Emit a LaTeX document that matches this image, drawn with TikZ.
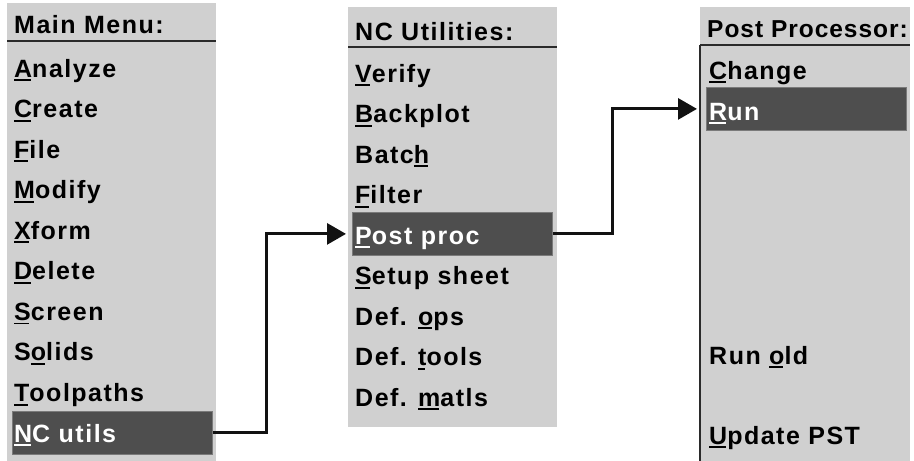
\documentclass[tikz,border=0pt]{standalone}
\usepackage{fontspec}
\setmainfont{Liberation Sans}[LetterSpace=6]
\newfontfamily\headfont{Liberation Sans}[LetterSpace=4]
\usetikzlibrary{arrows.meta}
\definecolor{panelgray}{HTML}{D0D0D0}
\definecolor{selgray}{HTML}{4E4E4E}
\definecolor{seledge}{HTML}{7A7A7A}
\definecolor{rulegray}{HTML}{2A2A2A}
% underlined access key
\newcommand{\hk}[1]{\setbox0\hbox{#1}\rlap{\rule[-4pt]{\dimexpr\wd0-1.5pt\relax}{1.8pt}}\box0}
\tikzset{
  panel/.style={fill=panelgray, draw=none, anchor=north west, inner sep=0pt},
  item/.style={anchor=base west, inner sep=0pt, font=\fontsize{25}{29}\selectfont\bfseries, text=black},
  selitem/.style={item, text=white},
  selbox/.style={fill=selgray, draw=seledge, line width=0.8pt, anchor=north west, inner sep=0pt,
    minimum width=200pt, minimum height=43pt},
  headrule/.style={draw=rulegray, line width=2pt},
  link/.style={draw=black!93, line width=3pt, -{Triangle[length=19pt,width=21pt]}},
}
\begin{document}
\begin{tikzpicture}[x=1pt, y=-1pt]
\useasboundingbox (0,0) rectangle (914,461);

% menu panels
\node[panel, minimum width=209pt, minimum height=458pt] (mainpanel) at (7,3) {};
\node[panel, minimum width=209pt, minimum height=420pt] (ncpanel) at (348,7) {};
\node[panel, minimum width=210pt, minimum height=454pt] (pppanel) at (700,7) {};

% header rules
\draw[headrule] (7,41) -- (216,41);
\draw[headrule] (348,47) -- (557,47);
\draw[headrule] (700,45) -- (910,45);
\draw[headrule] (700,45) -- (700,461);

% selected entries
\node[selbox] (ncutils) at (12,411) {};
\node[selbox] (postproc) at (352,212) {};
\node[selbox] (run) at (706,87) {};

% main menu
\node[item] (mmhead) at (14,33) {Main Menu:};
\node[item] (m1) at (14,77) {\hk{A}nalyze};
\node[item] (m2) at (14,117.6) {\hk{C}reate};
\node[item] (m3) at (14,158.1) {\hk{F}ile};
\node[item] (m4) at (14,198.7) {\hk{M}odify};
\node[item] (m5) at (14,239.2) {\hk{X}form};
\node[item] (m6) at (14,279.8) {\hk{D}elete};
\node[item] (m7) at (14,320.4) {\hk{S}creen};
\node[item] (m8) at (14,360.9) {S\hk{o}lids};
\node[item] (m9) at (14,401.5) {\hk{T}oolpaths};
\node[selitem] (m10) at (14,442) {\hk{N}C utils};

% NC utilities menu
\node[item] (nchead) at (355,40) {NC Utilities:};
\node[item] (n1) at (355,82) {\hk{V}erify};
\node[item] (n2) at (355,122.5) {\hk{B}ackplot};
\node[item] (n3) at (355,163) {Batc\hk{h}};
\node[item] (n4) at (355,203.5) {\hk{F}ilter};
\node[selitem] (n5) at (355,244) {\hk{P}ost proc};
\node[item] (n6) at (355,284.5) {\hk{S}etup sheet};
\node[item] (n7) at (355,325) {Def. \hk{o}ps};
\node[item] (n8) at (355,365.5) {Def. \hk{t}ools};
\node[item] (n9) at (355,406) {Def. \hk{m}atls};

% post processor menu (title runs into the panel edge)
\begin{scope}
  \clip (700,7) rectangle (910,45);
  \node[item, font=\fontsize{24.5}{29}\headfont\bfseries] (pphead) at (707,37) {Post Processor:};
\end{scope}
\node[item] (p1) at (709,79) {\hk{C}hange};
\node[selitem] (p2) at (709,120) {\hk{R}un};
\node[item] (p3) at (709,364) {Run \hk{o}ld};
\node[item] (p4) at (709,444) {\hk{U}pdate PST};

% menu navigation
\draw[link] (ncutils.east) -- ++(54,0) |- ([xshift=-6pt]postproc.west);
\draw[link] (postproc.east) -- ++(60,0) |- ([xshift=-9pt]run.west);
\end{tikzpicture}
\end{document}
